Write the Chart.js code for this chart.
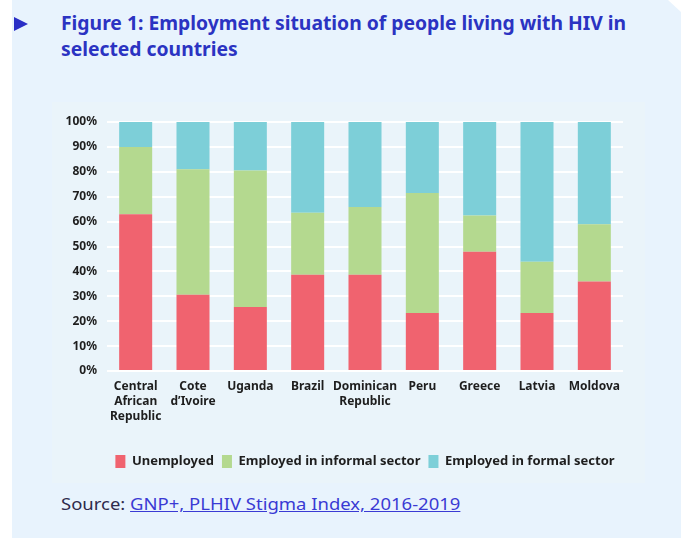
<!DOCTYPE html>
<html>
<head>
<meta charset="utf-8">
<script src="https://cdn.jsdelivr.net/npm/chart.js@4/dist/chart.umd.min.js"></script>
<style>
  html, body { margin: 0; padding: 0; background: #ffffff; }
  body { width: 681px; height: 538px; position: relative; overflow: hidden; font-family: "Noto Sans", sans-serif; }
  #card { position: absolute; left: 12px; top: 0; width: 669px; height: 538px; background: #e8f3fd;
          clip-path: polygon(0 0, 656px 0, 669px 12px, 669px 538px, 0 538px); }
  #panel { position: absolute; left: 52px; top: 102px; width: 593px; height: 381px; background: #eaf4fa; }
  #tri { position: absolute; left: 14px; top: 17px; width: 0; height: 0;
         border-top: 7.5px solid transparent; border-bottom: 7.5px solid transparent; border-left: 14px solid #2a2fc6; }
  #title { position: absolute; left: 61px; top: 10px; color: #2b33c2; font-weight: 700; font-size: 19px;
           line-height: 26px; white-space: nowrap; transform-origin: 0 0; }
  #source { position: absolute; left: 61px; top: 492px; color: #2e2a4c; font-size: 17px; line-height: 24px;
            white-space: nowrap; transform-origin: 0 0; }
  #source a { color: #3a3ad4; text-decoration: underline; }
  canvas { position: absolute; left: 0; top: 0; }
</style>
</head>
<body>
<div id="card"></div>
<div id="panel"></div>
<div id="tri"></div>
<div id="title">Figure 1: Employment situation of people living with HIV in<br>selected countries</div>
<div id="source">Source: <a href="#">GNP+, PLHIV Stigma Index, 2016-2019</a></div>
<canvas id="c" width="681" height="538"></canvas>
<script>
const countries = [
  ["Central", "African", "Republic"],
  ["Cote", "d\u2019Ivoire"],
  "Uganda",
  "Brazil",
  ["Dominican", "Republic"],
  "Peru",
  "Greece",
  "Latvia",
  "Moldova"
];
const unemployed = [63.0, 30.6, 25.7, 38.7, 38.7, 23.3, 47.9, 23.3, 35.9];
const informal   = [27.0, 50.4, 54.8, 24.9, 27.2, 48.2, 14.5, 20.6, 23.0];
const formal     = [10.0, 19.0, 19.5, 36.4, 34.1, 28.5, 37.6, 56.1, 41.1];
const seriesNames = ["Unemployed", "Employed in informal sector", "Employed in formal sector"];
const yTickValues = [0, 10, 20, 30, 40, 50, 60, 70, 80, 90, 100];

function fitWidth(id, target) {
  const el = document.getElementById(id);
  const w = el.scrollWidth;
  el.style.transform = "scaleX(" + (target / w) + ")";
}
fitWidth("title", 565);
fitWidth("source", 399);

const txt = "#1e1e1e";
const chart = new Chart(document.getElementById("c"), {
  type: "bar",
  data: {
    labels: countries,
    datasets: [
      { label: seriesNames[0], data: unemployed, backgroundColor: "#f0636f" },
      { label: seriesNames[1], data: informal,   backgroundColor: "#b4d98f" },
      { label: seriesNames[2], data: formal,     backgroundColor: "#7dcfd8" }
    ]
  },
  options: {
    responsive: false,
    devicePixelRatio: 1,
    animation: false,
    categoryPercentage: 1.0,
    barPercentage: 0.576,
    layout: { padding: { left: 57, right: 58, top: 122, bottom: 60 } },
    plugins: {
      title: { display: false },
      tooltip: { enabled: false },
      legend: {
        display: true,
        position: "bottom",
        fullSize: false,
        labels: {
          boxWidth: 10,
          boxHeight: 13,
          padding: 8,
          color: txt,
          font: { family: "Noto Sans", weight: "bold", size: 13 }
        }
      }
    },
    scales: {
      x: {
        stacked: true,
        grid: { display: false, drawTicks: false },
        border: { display: false },
        ticks: {
          color: txt,
          padding: 8,
          maxRotation: 0,
          autoSkip: false,
          font: { family: "Noto Sans", weight: "bold", size: 12, lineHeight: 1.25 }
        },
        afterFit: (s) => { s.height = 76; }
      },
      y: {
        stacked: true,
        min: 0,
        max: 100,
        afterBuildTicks: (s) => { s.ticks = yTickValues.map(v => ({ value: v })); },
        grid: { color: "#ffffff", lineWidth: 2, drawTicks: false },
        border: { display: false },
        ticks: {
          color: txt,
          padding: 10,
          font: { family: "Noto Sans", weight: "bold", size: 12 },
          callback: (v) => v + "%"
        },
        afterFit: (s) => { s.width = 50; }
      }
    }
  }
});
</script>
</body>
</html>
